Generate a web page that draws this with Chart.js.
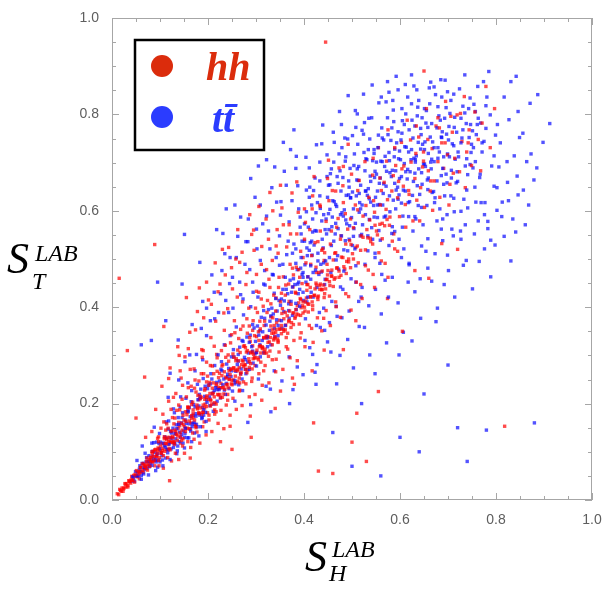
<!DOCTYPE html>
<html>
<head>
<meta charset="utf-8">
<script src="https://cdn.jsdelivr.net/npm/chart.js@4.4.0/dist/chart.umd.min.js"></script>
<style>
  html, body { margin: 0; padding: 0; background: #fff; }
  #chart { display: block; }
</style>
</head>
<body>
<canvas id="chart" width="613" height="601"></canvas>
<script>
// hh events, [S_H, S_T]
const hhPoints = [
[.011,.013],[.014,.011],[.016,.022],[.019,.018],[.021,.025],[.023,.018],[.025,.025],[.027,.034],[.029,.027],[.031,.034],[.033,.027],[.035,.040],[.037,.038],[.039,.035],[.041,.049],
[.043,.041],[.045,.051],[.047,.037],[.049,.050],[.051,.061],[.053,.048],[.055,.059],[.057,.044],[.059,.067],[.061,.058],[.063,.075],[.065,.057],[.067,.073],[.069,.069],[.071,.065],[.073,.087],[.075,.074],[.077,.080],[.079,.070],[.081,.088],
[.083,.100],[.085,.079],[.087,.090],[.089,.071],[.091,.105],[.093,.090],[.095,.103],[.097,.121],[.099,.088],[.101,.103],[.103,.098],[.105,.117],[.107,.092],[.109,.127],[.111,.117],[.113,.105],[.115,.130],[.117,.115],[.119,.107],[.121,.130],[.123,.143],[.125,.120],[.127,.129],[.129,.120],[.131,.145],
[.018,.020],[.024,.023],[.028,.033],[.033,.030],[.036,.039],[.040,.042],[.044,.041],[.048,.053],[.052,.050],[.056,.054],[.060,.068],[.064,.061],[.068,.066],[.072,.080],[.076,.071],[.080,.079],[.084,.096],[.088,.082],[.092,.090],[.096,.108],
[.133,.138],[.136,.124],[.139,.161],[.142,.139],[.145,.159],[.148,.127],[.151,.152],[.154,.163],[.157,.149],[.160,.191],[.163,.148],[.166,.169],[.169,.187],[.172,.166],[.175,.150],[.178,.189],[.181,.181],[.184,.210],[.187,.177],[.190,.197],[.193,.191],[.196,.213],[.199,.181],[.202,.238],[.205,.209],[.208,.199],[.211,.223],[.214,.187],[.217,.237],[.220,.219],[.223,.231],[.226,.212],[.229,.258],[.232,.234],[.235,.230],[.238,.253],[.241,.219],[.244,.250],[.247,.271],[.250,.239],[.253,.249],[.256,.269],[.259,.293],[.262,.246],[.265,.275],[.268,.261],[.271,.290],[.274,.245],[.277,.280],[.280,.307],[.283,.270],[.286,.287],[.289,.305],[.292,.272],[.295,.302],[.298,.295],[.301,.339],[.304,.295],[.307,.318],[.310,.286],[.313,.318],[.316,.337],[.319,.313],[.322,.305],[.325,.339],[.328,.328],[.331,.361],[.334,.322],[.337,.346],[.340,.338],[.343,.368],[.346,.327],[.349,.355],
[.353,.345],[.358,.376],[.363,.337],[.368,.370],[.373,.406],[.378,.364],[.383,.395],[.388,.384],[.393,.416],[.398,.388],[.403,.411],[.408,.407],[.413,.441],[.418,.395],[.423,.438],[.428,.421],[.433,.437],[.438,.475],[.443,.428],[.448,.458],[.453,.423],[.458,.477],[.463,.458],[.468,.481],[.473,.462],[.478,.504],[.483,.484],[.488,.470],[.493,.500],[.498,.530],[.503,.500],[.508,.524],[.513,.492],[.518,.518],[.523,.545],[.528,.519],[.533,.544],[.538,.543],[.543,.531],[.548,.570],[.553,.550],[.558,.572],[.563,.542],[.568,.569],[.573,.582],[.578,.570],
[.081,.089],[.085,.079],[.089,.104],[.093,.093],[.097,.082],[.101,.112],[.105,.103],[.109,.131],[.113,.118],[.117,.104],[.121,.122],[.125,.143],[.129,.121],[.133,.142],[.137,.133],[.141,.154],[.145,.124],[.149,.156],[.153,.142],[.157,.183],[.161,.164],[.165,.160],[.169,.180],[.173,.157],[.177,.197],[.181,.180],[.185,.191],[.189,.182],[.193,.209],[.197,.194],[.201,.209],[.205,.195],[.209,.232],[.213,.214],[.217,.199],[.221,.234],[.225,.219],[.229,.233],[.233,.220],[.237,.255],[.241,.240],[.245,.251],[.249,.241],[.253,.274],[.257,.257],[.261,.271],[.265,.253],[.269,.265],[.273,.288],[.277,.281],[.281,.264],[.285,.293],[.289,.283],[.293,.320],[.297,.295],[.301,.306],[.305,.291],[.309,.320],[.313,.314],[.317,.308],[.321,.340],[.325,.327],[.329,.309],[.333,.346],[.337,.332],[.341,.348],[.345,.334],[.349,.373],[.353,.362],[.357,.354],[.361,.353],[.365,.382],[.369,.373],[.373,.358],[.377,.388],[.381,.377],[.385,.386],[.389,.409],[.393,.383],[.397,.403],[.401,.400],[.405,.419],[.409,.390],[.413,.421],[.417,.411],[.421,.424],[.425,.450],[.429,.416],[.433,.445],[.437,.436],[.441,.446],[.445,.438],[.449,.467],[.453,.453],[.457,.465],[.461,.443],[.465,.461],[.469,.482],[.473,.475],[.477,.466],[.481,.503],[.485,.479],[.489,.495],[.493,.494],[.497,.482],[.501,.511],
[.058,.058],[.066,.076],[.070,.072],[.074,.062],[.078,.084],[.082,.081],[.086,.101],[.090,.083],[.094,.097],[.098,.106],[.102,.097],[.106,.107],[.110,.101],[.114,.126],[.118,.122],[.122,.119],[.126,.132],[.130,.115],[.134,.136],[.138,.149],[.142,.131],[.146,.145],[.150,.166],[.154,.148],[.158,.193],[.162,.147],[.166,.175],[.170,.172],[.174,.153],[.178,.191],[.182,.179],[.186,.213],[.190,.182],[.194,.199],[.198,.216],[.202,.176],[.206,.206],[.210,.220],[.214,.202],[.218,.241],[.222,.218],[.226,.233],[.230,.213],[.234,.266],[.238,.239],[.242,.233],[.246,.260],[.250,.248],[.254,.274],[.258,.244],[.262,.268],[.266,.243],[.270,.281],[.274,.277],[.278,.271],[.282,.310],[.286,.275],[.290,.307],[.294,.293],[.298,.279],[.302,.311],[.306,.331],[.310,.305],[.314,.316],[.318,.305],[.322,.337],[.326,.298],[.330,.337],[.334,.353],[.338,.335],[.342,.354],[.346,.330],[.350,.354],[.354,.387],[.358,.350],[.362,.363],[.366,.346],[.370,.392],[.374,.368],[.378,.388],[.382,.380],[.386,.403],[.390,.365],[.394,.399],[.398,.411],[.402,.392],[.406,.435],[.410,.406],[.414,.422],[.418,.403],[.422,.425],[.426,.446],[.430,.423],[.434,.448],[.438,.437],[.442,.420],[.446,.457],[.450,.476],[.454,.445],[.458,.464],
[.083,.142],[.091,.188],[.097,.131],[.104,.236],[.108,.162],[.112,.145],[.118,.205],[.121,.274],[.126,.171],[.129,.158],[.133,.221],[.137,.318],[.141,.187],[.144,.253],[.148,.176],[.152,.297],[.155,.214],[.158,.192],[.162,.348],[.165,.236],[.168,.203],[.171,.272],[.175,.224],[.178,.391],[.181,.247],[.184,.215],[.187,.312],[.191,.262],[.194,.231],[.197,.286],[.201,.415],[.203,.244],[.206,.337],[.209,.278],[.212,.262],[.216,.371],[.219,.295],[.222,.254],[.225,.448],[.228,.310],[.231,.281],[.234,.352],[.237,.296],[.241,.397],[.244,.268],[.247,.326],[.249,.482],[.252,.303],[.255,.372],[.258,.289],[.261,.421],[.264,.335],[.267,.306],[.271,.514],[.273,.361],[.276,.320],[.279,.447],[.282,.346],[.285,.398],[.288,.329],[.291,.551],[.294,.372],[.297,.341],[.301,.468],[.303,.389],[.306,.431],[.309,.355],[.312,.526],[.315,.402],[.318,.371],[.321,.583],[.324,.414],[.327,.458],[.331,.380],[.334,.497],[.337,.425],[.341,.392],[.344,.561],[.347,.441],[.351,.411],[.354,.606],[.357,.463],[.361,.425],[.364,.525],[.368,.448],[.371,.489],[.375,.637],[.378,.467],[.382,.431],[.385,.552],[.389,.478],[.393,.516],[.396,.449],[.401,.604],[.404,.492],[.408,.463],[.412,.561],[.416,.507],[.421,.671],[.425,.483],[.429,.536],[.433,.612],[.437,.518],[.442,.497],[.446,.578],[.451,.705],[.455,.531],[.459,.642],[.464,.512],[.468,.566],[.473,.689],[.477,.548],[.482,.617],[.487,.531],[.492,.738],[.497,.583],
[.095,.128],[.102,.149],[.114,.158],[.123,.188],[.131,.170],[.139,.197],[.146,.209],[.153,.183],[.159,.233],[.166,.198],[.173,.249],[.179,.217],[.186,.262],[.193,.228],[.199,.257],[.205,.279],[.211,.243],[.218,.302],[.224,.263],[.229,.278],[.236,.321],[.243,.288],[.249,.343],[.254,.296],[.262,.311],[.268,.354],[.274,.319],[.281,.376],[.287,.337],[.293,.352],[.299,.398],[.305,.349],[.311,.417],[.317,.362],[.323,.389],[.329,.441],[.335,.378],[.342,.419],[.348,.462],[.355,.397],[.362,.446],[.369,.412],[.376,.481],[.383,.429],[.391,.462],[.398,.503],[.406,.447],[.414,.489],[.423,.534],[.431,.472],[.439,.521],[.448,.489],[.457,.558],[.466,.513],[.476,.541],[.486,.594],[.495,.538],
[.106,.178],[.117,.149],[.128,.213],[.135,.186],[.147,.238],[.156,.177],[.163,.271],[.172,.232],[.181,.208],[.188,.296],[.197,.245],[.204,.221],[.213,.319],[.219,.267],[.227,.242],[.233,.388],[.242,.301],[.248,.272],[.256,.347],[.263,.289],[.272,.411],[.278,.316],[.286,.361],[.293,.307],[.301,.433],[.308,.371],[.316,.336],[.322,.478],[.331,.407],[.338,.362],[.346,.512],[.353,.429],[.361,.389],[.369,.571],[.377,.442],[.384,.483],[.392,.418],[.401,.541],[.408,.447],[.417,.604],[.426,.472],[.434,.558],[.443,.513],[.452,.621],[.461,.498],[.471,.584],[.481,.652],[.491,.562],
[.142,.268],[.159,.314],[.174,.353],[.191,.378],[.207,.406],[.221,.432],[.236,.467],[.251,.438],[.266,.493],[.281,.472],[.296,.518],[.311,.489],[.326,.541],[.342,.527],[.357,.571],[.372,.552],[.388,.597],[.403,.576],[.418,.631],[.434,.609],[.449,.667],[.466,.641],[.482,.692],[.499,.676],[.197,.452],[.243,.524],[.287,.592],[.329,.638],[.118,.252],[.215,.492],[.262,.561],[.306,.609],[.351,.653],
[.098,.071],[.107,.066],[.116,.088],[.124,.081],[.132,.097],[.139,.084],[.147,.112],[.151,.097],[.158,.121],[.164,.109],[.171,.126],[.177,.141],[.183,.118],[.189,.152],[.196,.135],[.202,.166],[.208,.142],[.214,.178],[.221,.159],[.227,.186],[.233,.148],[.238,.197],[.246,.176],[.252,.211],[.259,.188],[.266,.228],[.271,.196],[.279,.241],[.286,.214],[.292,.253],[.298,.219],[.306,.262],[.313,.238],[.319,.279],[.327,.243],[.334,.291],[.341,.266],[.348,.307],[.356,.271],[.363,.318],[.371,.295],[.379,.331],[.386,.289],[.394,.347],[.402,.318],[.411,.362],[.419,.327],[.428,.378],[.437,.351],[.446,.393],[.455,.362],[.466,.411],[.476,.379],[.487,.428],[.498,.394],[.509,.452],[.521,.418],[.534,.477],[.547,.441],[.561,.496],[.575,.462],[.589,.521],[.163,.087],[.226,.121],[.288,.174],[.351,.226],[.417,.268],[.482,.312],
[.121,.104],[.143,.118],[.168,.139],[.192,.162],[.217,.183],[.241,.207],[.265,.226],[.291,.246],[.316,.268],[.342,.292],[.366,.313],[.392,.336],[.416,.356],[.441,.377],[.467,.401],[.493,.422],[.518,.447],[.544,.468],[.569,.491],[.595,.516],[.246,.153],[.312,.207],[.376,.253],[.442,.311],[.508,.372],[.574,.418],[.631,.476],[.687,.532],
[.503,.565],[.507,.612],[.511,.527],[.515,.663],[.519,.548],[.523,.589],[.527,.702],[.531,.561],[.535,.628],[.539,.536],[.543,.674],[.547,.597],[.551,.558],[.555,.731],[.559,.612],[.563,.574],[.567,.659],[.571,.603],[.575,.768],[.579,.587],[.583,.641],[.587,.552],[.591,.694],[.595,.627],[.599,.588],[.603,.742],[.607,.651],[.611,.613],[.615,.788],[.619,.634],[.623,.701],[.627,.579],[.631,.667],[.635,.622],[.639,.753],[.643,.648],[.647,.691],[.651,.607],[.655,.812],[.659,.683],[.663,.641],[.667,.729],[.671,.662],[.675,.776],[.679,.702],[.683,.628],[.687,.741],[.691,.688],[.695,.827],[.699,.716],[.704,.655],[.709,.763],[.714,.709],[.719,.799],[.724,.681],[.729,.744],[.734,.837],[.739,.722],[.744,.768],[.749,.694],[.756,.805],[.763,.748],[.771,.782],[.779,.858],[.788,.731],[.797,.812],[.528,.486],[.556,.513],[.584,.537],[.612,.566],[.641,.579],[.668,.601],[.702,.612],[.736,.648],[.768,.683],[.512,.602],[.537,.581],[.561,.642],[.586,.673],[.608,.693],[.633,.719],[.658,.748],[.682,.772],[.706,.796],[.545,.621],[.572,.703],[.597,.661],[.622,.747],[.649,.722],
[.512,.642],[.529,.611],[.544,.709],[.558,.668],[.574,.623],[.589,.731],[.604,.687],[.618,.642],[.634,.776],[.649,.703],[.664,.662],[.679,.793],[.694,.741],[.711,.678],[.726,.802],[.742,.741],
[.089,.530],[.032,.310],[.015,.460],[.445,.950],[.818,.153],[.460,.055],[.430,.060],[.500,.120],[.530,.080],[.510,.180],[.555,.225],[.605,.350],[.420,.160],[.068,.255],[.108,.360],[.155,.420],[.182,.440],[.230,.520],[.258,.500],[.295,.560],[.335,.600],[.385,.660],[.070,.130],[.720,.520],[.660,.460],[.380,.240],[.340,.190],[.290,.130],[.250,.105],[.190,.310],[.140,.300],[.050,.170],[.120,.040],[.650,.890]
];

// ttbar events, [S_H, S_T]
const ttPoints = [
[.041,.039],[.043,.048],[.045,.046],[.047,.039],[.049,.059],[.051,.050],[.053,.057],[.055,.050],[.057,.064],[.059,.059],[.061,.051],[.063,.076],[.065,.068],[.067,.063],[.069,.068],[.071,.079],[.073,.066],[.075,.080],[.077,.092],[.079,.075],[.081,.083],[.083,.072],[.085,.091],[.087,.085],[.089,.099],
[.091,.083],[.093,.120],[.095,.096],[.097,.083],[.099,.106],[.101,.120],[.103,.098],[.105,.083],[.107,.118],[.109,.113],[.111,.110],[.113,.128],[.115,.105],[.117,.147],[.119,.116],[.121,.129],[.123,.106],[.125,.127],[.127,.149],[.129,.117],[.131,.137],[.133,.127],[.135,.148],[.137,.112],[.139,.157],
[.141,.141],[.143,.130],[.145,.160],[.147,.181],[.149,.143],[.151,.130],[.153,.166],[.155,.159],[.157,.129],[.159,.183],[.161,.158],[.163,.173],[.165,.204],[.167,.152],[.169,.176],[.171,.161],[.173,.193],[.175,.174],[.177,.152],[.179,.208],[.181,.195],[.183,.176],[.185,.230],[.187,.169],[.189,.192],[.191,.187],[.193,.215],[.195,.182],[.197,.208],[.199,.231],
[.058,.071],[.066,.054],[.072,.088],[.078,.069],[.084,.101],[.092,.079],[.098,.117],[.104,.092],[.110,.131],[.116,.098],[.122,.142],[.128,.109],[.134,.156],[.140,.121],[.146,.171],[.152,.138],[.158,.186],[.164,.143],[.170,.198],[.176,.157],[.182,.219],[.188,.171],[.194,.236],[.100,.079],[.118,.164],[.136,.102],[.154,.211],[.172,.139],[.190,.252],[.112,.087],[.130,.181],[.148,.118],[.166,.227],[.184,.152],[.087,.119],[.095,.068],[.142,.193],[.160,.129],[.178,.240],[.196,.163],
[.052,.082],[.061,.043],[.069,.097],[.076,.052],[.083,.118],[.091,.061],[.099,.138],[.106,.071],[.113,.162],[.121,.084],[.128,.189],[.135,.096],[.143,.214],[.151,.108],[.158,.243],[.166,.121],[.173,.268],[.181,.133],[.189,.291],[.196,.142],[.063,.112],[.088,.151],[.117,.213],[.139,.249],[.162,.301],
[.124,.139],[.131,.118],[.138,.171],[.145,.136],[.153,.149],[.161,.192],[.168,.158],[.175,.179],[.183,.211],[.191,.176],[.198,.203],[.205,.241],[.212,.199],[.219,.229],[.227,.271],[.234,.228],[.241,.261],[.249,.297],[.256,.241],[.263,.302],[.271,.331],[.278,.271],[.286,.327],[.293,.364],[.301,.306],[.308,.351],[.316,.393],[.323,.336],[.331,.382],[.338,.429],[.346,.362],[.353,.417],[.361,.462],[.368,.407],[.376,.442],[.383,.491],[.391,.437],[.398,.472],[.406,.523],[.414,.458],
[.201,.238],[.204,.196],[.206,.262],[.209,.221],[.211,.184],[.214,.279],[.216,.233],[.219,.205],[.221,.301],[.224,.247],[.226,.212],[.229,.268],[.231,.239],[.234,.322],[.236,.219],[.239,.282],[.241,.256],[.244,.231],[.246,.341],[.249,.268],[.251,.226],[.254,.297],[.256,.248],[.259,.359],[.261,.281],[.264,.239],[.266,.317],[.269,.272],[.271,.251],[.274,.384],[.276,.296],[.279,.262],[.281,.338],[.284,.305],[.286,.271],[.289,.401],[.291,.318],[.294,.284],[.296,.357],[.299,.329],[.301,.278],[.304,.421],[.306,.342],[.309,.297],[.311,.379],[.314,.349],[.316,.305],[.319,.446],[.321,.363],[.324,.318],[.326,.395],[.329,.371],[.331,.322],[.334,.468],[.336,.386],[.339,.339],[.341,.418],[.344,.392],[.346,.341],[.349,.487],[.351,.404],[.354,.356],[.356,.437],[.359,.413],[.361,.362],[.364,.509],[.366,.428],[.369,.377],[.371,.456],[.374,.431],[.376,.383],[.379,.531],[.381,.447],[.384,.395],[.386,.478],[.389,.452],[.391,.402],[.394,.552],[.396,.468],[.399,.414],
[.203,.214],[.208,.251],[.213,.227],[.218,.244],[.223,.229],[.228,.287],[.233,.251],[.238,.242],[.243,.273],[.248,.256],[.253,.312],[.258,.267],[.263,.288],[.268,.262],[.273,.329],[.278,.291],[.283,.286],[.288,.342],[.293,.309],[.298,.303],[.303,.361],[.308,.322],[.313,.331],[.318,.377],[.323,.339],[.328,.352],[.333,.398],[.338,.356],[.343,.374],[.348,.414],[.353,.372],[.358,.391],[.363,.437],[.368,.393],[.373,.412],[.378,.459],[.383,.408],[.388,.428],[.393,.481],[.398,.431],
[.256,.205],[.272,.227],[.289,.198],[.305,.251],[.321,.236],[.338,.268],[.354,.247],[.369,.297],[.386,.276],[.402,.331],[.418,.302],[.434,.358],[.449,.328],[.283,.161],[.331,.183],[.377,.229],[.423,.265],
[.402,.488],[.447,.552],[.415,.431],[.428,.617],[.436,.473],[.409,.566],[.441,.398],[.421,.529],[.433,.701],[.404,.452],[.418,.583],[.445,.496],[.426,.362],[.412,.649],[.438,.541],[.407,.507],[.431,.468],[.449,.628],[.423,.559],[.414,.486],[.443,.447],[.405,.598],[.429,.512],[.437,.739],[.419,.421],[.401,.537],[.446,.583],[.424,.477],[.411,.689],[.434,.605],[.417,.508],[.440,.523],[.427,.441],[.403,.376],[.448,.671],[.420,.642],[.432,.389],[.408,.463],[.444,.561],[.413,.534],[.439,.778],[.425,.596],[.406,.411],[.435,.489],[.416,.612],
[.452,.561],[.488,.632],[.467,.498],[.473,.718],[.459,.587],[.494,.541],[.481,.669],[.456,.472],[.463,.619],[.499,.586],[.476,.442],[.485,.751],[.454,.654],[.471,.563],[.491,.517],[.462,.701],[.479,.596],[.457,.528],[.496,.688],[.468,.609],[.483,.475],[.451,.594],[.474,.806],[.489,.573],[.465,.552],[.497,.627],[.458,.412],[.477,.641],[.486,.538],[.461,.763],[.493,.662],[.470,.507],[.455,.677],[.482,.589],[.498,.459],[.466,.574],[.487,.712],[.453,.503],[.478,.548],[.492,.839],[.460,.621],[.475,.683],[.484,.602],[.469,.381],[.495,.569],
[.503,.604],[.538,.672],[.517,.548],[.524,.759],[.509,.631],[.546,.587],[.531,.706],[.506,.521],[.513,.663],[.549,.628],[.527,.489],[.535,.792],[.504,.694],[.521,.612],[.541,.565],[.512,.738],[.529,.641],[.507,.574],[.546,.727],[.518,.653],[.533,.517],[.501,.639],[.524,.842],[.539,.618],[.515,.597],[.547,.669],[.508,.452],[.527,.683],[.536,.582],[.511,.801],[.543,.704],[.520,.551],[.505,.718],[.532,.632],[.548,.503],[.516,.617],[.537,.749],[.503,.547],[.528,.592],[.542,.861],[.510,.664],[.525,.721],[.534,.646],[.519,.421],[.545,.611],
[.553,.641],[.588,.712],[.567,.587],[.574,.793],[.559,.668],[.596,.624],[.581,.746],[.556,.559],[.563,.702],[.599,.667],[.577,.528],[.585,.829],[.554,.731],[.571,.651],[.591,.604],[.562,.772],[.579,.679],[.557,.613],[.596,.764],[.568,.692],[.583,.553],[.551,.676],[.574,.868],[.589,.657],[.565,.636],[.597,.708],[.558,.491],[.577,.721],[.586,.622],[.561,.836],[.593,.741],[.570,.589],[.555,.757],[.582,.671],[.598,.541],[.566,.656],[.587,.785],[.553,.586],[.578,.631],[.592,.879],[.560,.703],[.575,.758],[.584,.684],[.569,.456],[.595,.649],
[.603,.671],[.638,.742],[.617,.617],[.624,.822],[.609,.698],[.646,.655],[.631,.776],[.606,.589],[.613,.732],[.649,.697],[.627,.558],[.635,.851],[.604,.761],[.621,.681],[.641,.634],[.612,.801],[.629,.709],[.607,.643],[.646,.793],[.618,.722],[.633,.583],[.601,.706],[.624,.882],[.639,.687],[.615,.666],[.647,.738],[.608,.521],[.627,.751],[.636,.652],[.611,.862],[.643,.771],[.620,.619],[.605,.787],[.632,.701],[.648,.571],[.616,.686],[.637,.815],[.603,.616],[.628,.661],[.642,.459],[.610,.733],[.625,.788],[.634,.714],[.619,.488],[.645,.679],
[.653,.692],[.688,.764],[.667,.638],[.674,.841],[.659,.719],[.696,.676],[.681,.797],[.656,.611],[.663,.753],[.699,.718],[.677,.579],[.685,.872],[.654,.782],[.671,.702],[.691,.655],[.662,.822],[.679,.731],[.657,.664],[.696,.814],[.668,.743],[.683,.604],[.651,.727],[.689,.688],[.665,.687],[.697,.759],[.658,.542],[.677,.772],[.686,.673],[.661,.855],[.693,.792],[.670,.640],[.655,.808],[.682,.722],[.698,.592],[.666,.707],[.687,.836],[.673,.511],[.692,.447],
[.703,.712],[.738,.781],[.717,.658],[.724,.853],[.709,.739],[.746,.696],[.731,.817],[.706,.631],[.713,.773],[.749,.738],[.727,.599],[.735,.882],[.704,.802],[.721,.722],[.741,.675],[.712,.842],[.729,.751],[.707,.684],[.746,.834],[.718,.763],[.733,.624],[.701,.747],[.739,.708],[.715,.707],[.747,.779],[.708,.562],[.727,.792],[.736,.693],[.711,.548],[.743,.812],[.720,.661],[.732,.487],
[.753,.731],[.788,.799],[.767,.676],[.774,.868],[.759,.758],[.796,.714],[.781,.836],[.756,.649],[.763,.792],[.799,.757],[.777,.617],[.785,.889],[.754,.821],[.771,.741],[.791,.693],[.762,.858],[.779,.771],[.757,.702],[.796,.651],[.768,.782],[.783,.578],[.751,.766],[.789,.539],[.765,.495],
[.803,.779],[.838,.714],[.817,.836],[.824,.659],[.809,.741],[.846,.806],[.831,.868],[.806,.691],[.813,.618],[.849,.752],[.827,.789],[.835,.583],[.842,.879],
[.856,.761],[.864,.702],[.871,.823],[.879,.664],[.887,.841],[.898,.742],[.912,.781],[.868,.612],
[.383,.521],[.392,.587],[.398,.462],[.405,.643],[.411,.518],[.419,.472],[.426,.558],[.433,.631],[.441,.492],[.448,.716],[.454,.603],[.462,.537],[.469,.671],[.476,.592],[.483,.519],[.491,.749],[.497,.627],[.504,.563],[.511,.687],[.518,.604],[.526,.783],[.533,.548],[.539,.661],[.546,.719],[.553,.612],[.559,.539],[.566,.747],[.572,.682],[.579,.598],[.586,.809],[.592,.643],[.599,.724],[.605,.566],[.612,.681],[.619,.768],[.626,.632],[.632,.706],[.639,.829],[.645,.607],[.652,.743],[.659,.668],[.666,.781],[.673,.627],[.679,.709],[.686,.753],[.693,.631],[.699,.847],[.707,.668],[.714,.794],[.722,.712],[.731,.768],[.739,.643],[.748,.721],[.757,.806],[.766,.669],[.775,.744],
[.387,.448],[.394,.503],[.401,.573],[.408,.421],[.416,.537],[.423,.668],[.429,.496],[.437,.579],[.444,.458],[.451,.653],[.458,.567],[.466,.613],[.472,.479],[.479,.731],[.487,.581],[.494,.649],[.501,.528],[.508,.773],[.515,.636],[.522,.571],[.529,.708],[.536,.625],[.543,.541],[.551,.701],[.557,.657],[.564,.612],[.571,.826],[.578,.704],[.584,.567],[.591,.683],[.598,.633],[.604,.812],[.611,.641],[.618,.588],[.624,.727],[.631,.678],[.638,.611],[.644,.758],[.651,.697],[.658,.644],[.664,.867],[.671,.731],[.677,.662],[.684,.788],[.691,.712],[.698,.658],[.706,.829],[.712,.735],[.719,.681],[.727,.741],[.735,.803],[.744,.752],[.752,.689],[.761,.779],[.771,.722],[.779,.818],
[.457,.687],[.463,.742],[.471,.657],[.478,.779],[.486,.703],[.493,.633],[.501,.756],[.507,.808],[.514,.692],[.521,.767],[.528,.641],[.534,.727],[.541,.793],[.548,.682],[.556,.824],[.563,.751],[.569,.713],[.577,.846],[.583,.772],[.589,.728],[.596,.851],[.602,.747],[.609,.779],[.616,.836],[.623,.706],[.629,.859],[.636,.797],[.643,.728],[.651,.812],[.658,.773],[.664,.701],[.671,.857],[.679,.816],[.687,.752],[.694,.871],[.702,.775],
[.121,.263],[.138,.332],[.152,.287],[.167,.364],[.176,.302],[.189,.412],[.197,.341],[.208,.467],[.214,.376],[.226,.428],[.235,.511],[.243,.389],[.251,.462],[.262,.547],[.268,.426],[.277,.489],[.284,.583],[.293,.452],[.302,.521],[.309,.612],[.318,.476],[.326,.558],[.333,.648],[.342,.503],[.351,.591],[.359,.682],[.367,.537],[.375,.621],[.384,.713],[.392,.566],[.112,.372],[.146,.448],[.183,.493],[.218,.561],[.256,.612],[.289,.667],[.322,.706],[.357,.742],[.095,.452],[.151,.551],[.061,.322],[.082,.331],[.238,.604],[.305,.693],[.379,.768],
[.186,.356],[.197,.398],[.205,.372],[.213,.431],[.222,.389],[.229,.476],[.237,.414],[.245,.449],[.252,.398],[.259,.503],[.266,.452],[.273,.417],[.279,.536],[.287,.478],[.294,.431],[.301,.562],[.309,.497],[.316,.448],[.322,.589],[.329,.521],[.336,.467],[.343,.618],[.349,.548],[.356,.489],[.363,.653],[.369,.577],[.376,.512],[.383,.688],[.389,.604],[.396,.537],[.404,.711],[.411,.628],[.418,.556],[.426,.737],[.433,.662],[.441,.592],[.231,.553],[.268,.587],[.298,.628],[.339,.691],[.372,.727],[.246,.503],[.283,.536],[.314,.573],[.352,.619],[.387,.652],
[.412,.316],[.427,.281],[.443,.352],[.456,.307],[.468,.241],[.479,.378],[.491,.333],[.503,.274],[.514,.412],[.526,.358],[.537,.301],[.549,.437],[.561,.386],[.572,.326],[.584,.462],[.596,.409],[.607,.348],[.619,.491],[.631,.432],[.643,.377],[.654,.516],[.666,.454],[.678,.398],[.689,.538],[.701,.476],[.714,.421],[.726,.558],[.738,.497],[.751,.438],[.763,.579],[.776,.521],[.789,.463],[.802,.601],[.817,.547],[.831,.496],[.846,.633],[.861,.571],
[.453,.368],[.467,.402],[.481,.437],[.494,.392],[.508,.486],[.521,.441],[.535,.403],[.548,.512],[.562,.468],[.576,.421],[.589,.557],[.603,.503],[.617,.452],[.631,.588],[.645,.527],[.658,.481],[.672,.617],[.686,.562],[.699,.508],[.713,.598],[.727,.541],[.741,.606],[.755,.552],[.769,.617],[.783,.563],[.798,.529],[.812,.588],[.826,.621],[.841,.556],[.689,.583],[.712,.626],[.736,.571],[.758,.618],[.776,.592],[.802,.648],[.823,.702],[.844,.672],[.857,.643],[.873,.718],[.885,.689],
[.780,.145],[.880,.160],[.720,.150],[.740,.080],[.640,.100],[.560,.050],[.500,.070],[.460,.140],[.600,.130],[.520,.200],[.650,.220],[.700,.280],[.548,.262],[.598,.301],[.625,.330],[.675,.370],[.425,.240],[.475,.300],[.515,.360],[.370,.200],[.398,.260],[.330,.230]
];

const axisTicks = [0, 0.2, 0.4, 0.6, 0.8, 1.0];
const hhColor = '#db2c0c';
const ttColor = '#2b3cff';
const hhFill = 'rgba(255, 0, 0, 0.7)';
const ttFill = 'rgba(10, 10, 255, 0.7)';

const toXY = pts => pts.map(p => ({ x: p[0], y: p[1] }));
// split each sample in two halves so red and blue get drawn interleaved
const half = (pts, odd) => toXY(pts.filter((p, i) => (i % 2 === 1) === odd));

function scatterSet(label, data, color) {
  return { label, data, pointStyle: 'rect', pointRadius: 2.4, borderWidth: 0, backgroundColor: color };
}

// frame with inward ticks on all four sides
const frameTicks = {
  id: 'frameTicks',
  afterDatasetsDraw(chart) {
    const { ctx, chartArea: a, scales } = chart;
    ctx.save();
    ctx.strokeStyle = '#a6a6a6';
    ctx.lineWidth = 1;
    ctx.strokeRect(a.left + 0.5, a.top + 0.5, a.right - a.left - 1, a.bottom - a.top - 1);
    ctx.beginPath();
    for (let i = 0; i <= 20; i++) {
      const v = i * 0.05;
      const len = i % 4 === 0 ? 7 : 4;
      const px = Math.round(scales.x.getPixelForValue(v)) + 0.5;
      const py = Math.round(scales.y.getPixelForValue(v)) + 0.5;
      ctx.moveTo(px, a.bottom); ctx.lineTo(px, a.bottom - len);
      ctx.moveTo(px, a.top); ctx.lineTo(px, a.top + len);
      ctx.moveTo(a.left, py); ctx.lineTo(a.left + len, py);
      ctx.moveTo(a.right, py); ctx.lineTo(a.right - len, py);
    }
    ctx.stroke();
    ctx.restore();
  }
};

// axis titles and the boxed legend
const labelsAndLegend = {
  id: 'labelsAndLegend',
  afterDraw(chart) {
    const ctx = chart.ctx;
    ctx.save();
    ctx.fillStyle = '#000';
    ctx.textBaseline = 'alphabetic';
    const big = 'italic 44px "Liberation Serif", serif';
    const small = 'italic 24px "Liberation Serif", serif';

    ctx.font = big; ctx.fillText('S', 7, 273);
    ctx.font = small; ctx.fillText('LAB', 35, 261); ctx.fillText('T', 32, 289);

    ctx.font = big; ctx.fillText('S', 305, 571);
    ctx.font = small; ctx.fillText('LAB', 332, 557); ctx.fillText('H', 329, 581);

    // legend
    ctx.lineWidth = 2.5;
    ctx.strokeStyle = '#000';
    ctx.fillStyle = '#fff';
    ctx.fillRect(135, 40, 129, 110);
    ctx.strokeRect(135, 40, 129, 110);

    ctx.fillStyle = hhColor;
    ctx.beginPath(); ctx.arc(162, 66, 11, 0, Math.PI * 2); ctx.fill();
    ctx.font = 'bold italic 40px "Liberation Serif", serif';
    ctx.fillText('hh', 206, 80);

    ctx.fillStyle = ttColor;
    ctx.beginPath(); ctx.arc(162, 117, 11, 0, Math.PI * 2); ctx.fill();
    ctx.fillText('tt\u0304', 212, 132);
    ctx.restore();
  }
};

const tickFont = { family: '"Liberation Sans", Arial, sans-serif', size: 14 };

new Chart(document.getElementById('chart'), {
  type: 'scatter',
  data: {
    // dataset 0 is painted last (on top)
    datasets: [
      scatterSet('hh', half(hhPoints, true), hhFill),
      scatterSet('tt', half(ttPoints, true), ttFill),
      scatterSet('hh', half(hhPoints, false), hhFill),
      scatterSet('tt', half(ttPoints, false), ttFill)
    ]
  },
  options: {
    responsive: false,
    animation: false,
    devicePixelRatio: 1,
    layout: { padding: { left: 0, right: 21, top: 18, bottom: 0 } },
    plugins: { legend: { display: false }, tooltip: { enabled: false } },
    scales: {
      x: {
        min: 0, max: 1,
        grid: { display: false },
        border: { display: false },
        afterBuildTicks: s => { s.ticks = axisTicks.map(v => ({ value: v })); },
        afterFit: s => { s.height = 101; },
        ticks: { color: '#5e5e5e', font: tickFont, padding: 4, maxRotation: 0, callback: v => v.toFixed(1) }
      },
      y: {
        min: 0, max: 1,
        grid: { display: false },
        border: { display: false },
        afterBuildTicks: s => { s.ticks = axisTicks.map(v => ({ value: v })); },
        afterFit: s => { s.width = 112; },
        ticks: { color: '#5e5e5e', font: tickFont, padding: 5, callback: v => v.toFixed(1) }
      }
    }
  },
  plugins: [frameTicks, labelsAndLegend]
});
</script>
</body>
</html>
